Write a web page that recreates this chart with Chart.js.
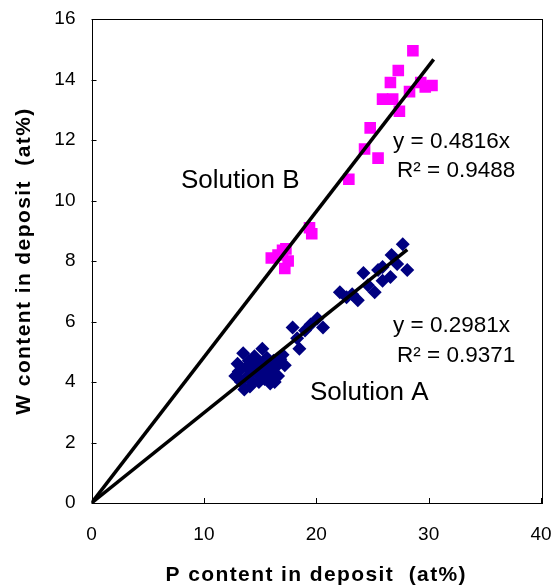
<!DOCTYPE html>
<html>
<head>
<meta charset="utf-8">
<script src="https://cdn.jsdelivr.net/npm/chart.js@4/dist/chart.umd.min.js"></script>
<style>
  html, body { margin: 0; padding: 0; background: #fff; }
  #wrap { width: 556px; height: 588px; position: relative; }
</style>
</head>
<body>
<div id="wrap"><canvas id="chart"></canvas></div>
<script>
// 数据：溶液 A（蓝色菱形）
const solutionA_P = [12.8, 13.0, 13.1, 13.3, 13.5, 13.6, 13.8, 13.9, 14.0, 14.1, 14.2, 14.3, 14.5, 14.6, 14.8, 14.9,
  15.0, 15.2, 15.3, 15.4, 15.5, 15.6, 15.7, 15.9, 16.0, 16.2, 16.3, 16.4, 16.6, 16.8, 17.0, 17.2,
  17.9, 18.3, 18.5, 19.0, 19.5, 20.1, 20.6, 22.1, 22.7, 23.2, 23.7, 24.2, 24.6, 25.2, 25.5, 25.9, 25.9, 26.6, 26.7, 27.2, 27.7, 28.1];
const solutionA_W = [4.2, 4.6, 4.35, 4.0, 4.95, 3.75, 4.5, 4.2, 4.7, 3.85, 4.4, 4.0, 4.85, 4.55, 4.25, 4.0,
  4.65, 5.1, 4.4, 4.1, 4.25, 4.8, 4.5, 3.95, 4.3, 4.7, 4.0, 4.5, 4.2, 4.75, 4.9, 4.55,
  5.8, 5.45, 5.1, 5.7, 5.9, 6.1, 5.8, 6.97, 6.8, 6.9, 6.7, 7.6, 7.2, 6.97, 7.7, 7.8, 7.35, 7.47, 8.2, 7.9, 8.55, 7.7];

// 数据：溶液 B（品红方块）
const solutionB_P = [16.0, 16.6, 17.0, 17.3, 17.5, 17.2, 19.4, 19.6, 22.9, 24.3, 24.8, 25.5, 25.9, 26.8, 27.4, 26.6, 27.3, 28.6, 28.3, 29.3, 29.7, 30.3];
const solutionB_W = [8.1, 8.2, 8.35, 8.4, 8.0, 7.75, 9.1, 8.9, 10.7, 11.7, 12.4, 11.4, 13.35, 13.35, 12.95, 13.9, 14.3, 14.95, 13.6, 13.9, 13.75, 13.8];

// 趋势线斜率与终点
const slopeA = 0.2981;
const slopeB = 0.4816;
const trendEndA = 28.1;
const trendEndB = 30.45;

// 坐标轴刻度
const xTicks = [0, 10, 20, 30, 40];
const yTicks = [0, 2, 4, 6, 8, 10, 12, 14, 16];

const FONT = "'Liberation Sans', Arial, sans-serif";

function toPoints(xs, ys) {
    return xs.map((x, i) => ({ x: x, y: ys[i] }));
}

// 自定义绘制：边框、内向刻度、坐标轴标题、注释文字
const decorPlugin = {
    id: 'decor',
    afterDraw(chart) {
        const ctx = chart.ctx;
        const a = chart.chartArea;
        const xs = chart.scales.x;
        const ys = chart.scales.y;
        ctx.save();
        ctx.strokeStyle = '#000';
        ctx.lineWidth = 1;
        ctx.strokeRect(Math.round(a.left) + 0.5, Math.round(a.top) + 0.5,
            Math.round(a.right - a.left), Math.round(a.bottom - a.top));
        ctx.beginPath();
        xTicks.forEach(v => {
            const px = Math.round(xs.getPixelForValue(v)) + 0.5;
            ctx.moveTo(px, a.bottom);
            ctx.lineTo(px, a.bottom - 5);
        });
        yTicks.forEach(v => {
            const py = Math.round(ys.getPixelForValue(v)) + 0.5;
            ctx.moveTo(a.left, py);
            ctx.lineTo(a.left + 5, py);
        });
        ctx.stroke();

        // 坐标轴标题
        ctx.fillStyle = '#000';
        ctx.font = 'bold 21px ' + FONT;
        if ('letterSpacing' in ctx) ctx.letterSpacing = '1.4px';
        ctx.textAlign = 'center';
        ctx.textBaseline = 'middle';
        ctx.fillText('P content in deposit  (at%)', (a.left + a.right) / 2, 575);
        ctx.save();
        ctx.translate(24, (a.top + a.bottom) / 2);
        ctx.rotate(-Math.PI / 2);
        ctx.fillText('W content in deposit  (at%)', 0, 0);
        ctx.restore();
        if ('letterSpacing' in ctx) ctx.letterSpacing = '0px';

        // 注释
        ctx.textAlign = 'left';
        ctx.font = '26px ' + FONT;
        ctx.fillText('Solution B', 181, 181);
        ctx.fillText('Solution A', 310, 393);
        ctx.font = '22.5px ' + FONT;
        ctx.fillText('y = 0.4816x', 393, 142);
        ctx.fillText('R\u00B2 = 0.9488', 397, 171);
        ctx.fillText('y = 0.2981x', 393, 326);
        ctx.fillText('R\u00B2 = 0.9371', 397, 356);
        ctx.restore();
    }
};

function initChart() {
    const ctx = document.getElementById('chart').getContext('2d');
    new Chart(ctx, {
        type: 'scatter',
        data: {
            datasets: [
                {
                    type: 'line',
                    label: 'Trend B',
                    data: [{ x: 0, y: 0 }, { x: trendEndB, y: slopeB * trendEndB }],
                    borderColor: '#000',
                    borderWidth: 3.5,
                    pointRadius: 0,
                    fill: false,
                    order: 0
                },
                {
                    type: 'line',
                    label: 'Trend A',
                    data: [{ x: 0, y: 0 }, { x: trendEndA, y: slopeA * trendEndA }],
                    borderColor: '#000',
                    borderWidth: 3.5,
                    pointRadius: 0,
                    fill: false,
                    order: 0
                },
                {
                    label: 'Solution B',
                    data: toPoints(solutionB_P, solutionB_W),
                    pointStyle: 'rect',
                    pointRadius: 8.2,
                    backgroundColor: '#FF00FF',
                    borderColor: '#FF00FF',
                    borderWidth: 0,
                    order: 1
                },
                {
                    label: 'Solution A',
                    data: toPoints(solutionA_P, solutionA_W),
                    pointStyle: 'rectRot',
                    pointRadius: 7,
                    backgroundColor: '#000080',
                    borderColor: '#000080',
                    borderWidth: 0,
                    order: 1
                }
            ]
        },
        options: {
            responsive: true,
            maintainAspectRatio: false,
            animation: false,
            layout: { padding: { top: 19, right: 15, left: 0, bottom: 0 } },
            plugins: {
                legend: { display: false },
                tooltip: { enabled: false }
            },
            scales: {
                x: {
                    type: 'linear',
                    min: 0,
                    max: 40,
                    afterBuildTicks: s => { s.ticks = xTicks.map(v => ({ value: v })); },
                    afterFit: s => { s.height = 85; s.paddingLeft = 0; s.paddingRight = 0; },
                    grid: { display: false, drawTicks: false },
                    border: { display: false },
                    ticks: { color: '#000', padding: 20, font: { family: FONT, size: 19 } }
                },
                y: {
                    type: 'linear',
                    min: 0,
                    max: 16,
                    afterBuildTicks: s => { s.ticks = yTicks.map(v => ({ value: v })); },
                    afterFit: s => { s.width = 91.5; s.paddingTop = 0; s.paddingBottom = 0; },
                    grid: { display: false, drawTicks: false },
                    border: { display: false },
                    ticks: { color: '#000', padding: 16, font: { family: FONT, size: 19 } }
                }
            }
        },
        plugins: [decorPlugin]
    });
}

document.addEventListener('DOMContentLoaded', initChart);
</script>
</body>
</html>
